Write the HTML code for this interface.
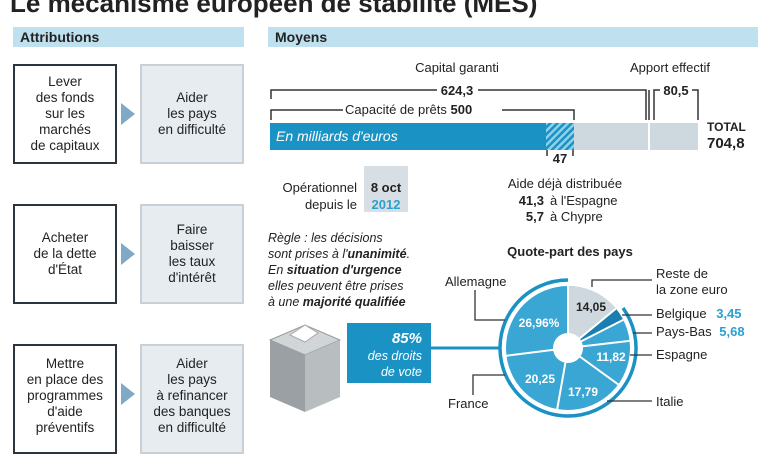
<!DOCTYPE html>
<html><head><meta charset="utf-8"><style>
body{margin:0;width:770px;height:432px;overflow:hidden;background:#fff;font-family:"Liberation Sans",sans-serif;position:relative;color:#222}
.a{position:absolute}
.hd{position:absolute;top:27px;height:20px;background:#bfe0ef;font-weight:bold;font-size:14px;line-height:20px;padding-left:7px;box-sizing:border-box}
.bx{position:absolute;width:104px;height:100px;box-sizing:border-box;display:flex;align-items:center;justify-content:center;text-align:center;font-size:13.5px;line-height:16px}
.l{border:2px solid #2a3540;background:#fff}
.r{border:2px solid #c8d0d6;background:#e6ecf0}
.ar{position:absolute;width:0;height:0;border-top:11px solid transparent;border-bottom:11px solid transparent;border-left:14px solid #7fa9c4}
</style></head><body>
<div class="a" style="left:10px;top:-12px;font-size:26px;font-weight:bold;white-space:nowrap">Le mécanisme européen de stabilité (MES)</div>
<div class="hd" style="left:13px;width:231px">Attributions</div>
<div class="hd" style="left:268px;width:490px">Moyens</div>

<div class="bx l" style="left:13px;top:64px">Lever<br>des fonds<br>sur les<br>marchés<br>de capitaux</div>
<div class="ar" style="left:121px;top:103px"></div>
<div class="bx r" style="left:140px;top:64px">Aider<br>les pays<br>en difficulté</div>
<div class="bx l" style="left:13px;top:204px">Acheter<br>de la dette<br>d'État</div>
<div class="ar" style="left:121px;top:243px"></div>
<div class="bx r" style="left:140px;top:204px">Faire<br>baisser<br>les taux<br>d'intérêt</div>
<div class="bx l" style="left:13px;top:344px;align-items:flex-start;padding-top:10px;height:110px">Mettre<br>en place des<br>programmes<br>d'aide<br>préventifs</div>
<div class="ar" style="left:121px;top:383px"></div>
<div class="bx r" style="left:140px;top:344px;align-items:flex-start;padding-top:10px;height:110px">Aider<br>les pays<br>à refinancer<br>des banques<br>en difficulté</div>

<svg class="a" style="left:0;top:0" width="770" height="432">
<defs><pattern id="h" width="5" height="5" patternUnits="userSpaceOnUse" patternTransform="rotate(45)"><rect width="5" height="5" fill="#8fd0ea"/><rect width="2.5" height="5" fill="#1a93c4"/></pattern></defs>
<g stroke="#333" stroke-width="1.5" fill="none">
<path d="M271,99 V90 H437 M478,90 H646 V120 M649,120 V90"/>
<path d="M271,120 V110 H343 M502,110 H574 V120"/>
<path d="M654,120 V90 H660 M692,90 H698 V120"/>
<path d="M547,150 V156 M573,150 V156"/>
</g>
<rect x="270" y="123" width="276" height="27" fill="#1a93c4"/>
<rect x="546" y="123" width="28" height="27" fill="url(#h)"/>
<rect x="574" y="123" width="124" height="27" fill="#cdd8df"/>
<rect x="648" y="123" width="2" height="27" fill="#fff"/>
<rect x="364" y="166" width="44" height="46" fill="#d7dfe4"/>
<polygon points="270,340 305,325 340,340 305,355" fill="#d0d5d8" stroke="#999"/>
<polygon points="270,340 305,355 305,412 270,397" fill="#9aa0a4"/>
<polygon points="305,355 340,340 340,397 305,412" fill="#b8bdc0"/>
<polygon points="290,335 305,325 318,333 305,342" fill="#fff" stroke="#aaa"/>
<rect x="347" y="323" width="84" height="60" fill="#1a93c4"/>
<line x1="431" y1="348" x2="500" y2="348" stroke="#1a93c4" stroke-width="3"/>
<path d="M623,308 A68,68 0 1 1 568,280" fill="none" stroke="#1a93c4" stroke-width="3.5"/>
<circle cx="568" cy="348" r="62" fill="#3aa6d4"/>
<path d="M568,348 L568,286 A62,62 0 0 1 615.9,308.6 Z" fill="#cfd8de"/>
<path d="M568,348 L615.9,308.6 A62,62 0 0 1 623.2,319.9 Z" fill="#1a7fb0"/>
<g stroke="#fff" stroke-width="2">
<line x1="568" y1="348" x2="568" y2="286"/><line x1="568" y1="348" x2="615.9" y2="308.6"/>
<line x1="568" y1="348" x2="623.2" y2="319.9"/><line x1="568" y1="348" x2="629.6" y2="340.9"/>
<line x1="568" y1="348" x2="618.2" y2="384.4"/><line x1="568" y1="348" x2="557.2" y2="409.1"/>
<line x1="568" y1="348" x2="506.5" y2="355.7"/></g>
<circle cx="568" cy="348" r="15" fill="#fff"/>
<g stroke="#333" stroke-width="1.3" fill="none">
<path d="M592,287 V280 H652"/><path d="M622,315 H652"/><path d="M633,333 H652"/>
<path d="M630,355 H652"/><path d="M607,401 H652"/><path d="M475,290 V320 H505"/><path d="M473,395 V375 H505"/>
</g>
<g font-family="Liberation Sans,sans-serif" font-size="13" fill="#222">
<text x="457" y="72" text-anchor="middle">Capital garanti</text>
<text x="457" y="95" text-anchor="middle" font-weight="bold">624,3</text>
<text x="345" y="114">Capacité de prêts <tspan font-weight="bold">500</tspan></text>
<text x="670" y="72" text-anchor="middle">Apport effectif</text>
<text x="676" y="95" text-anchor="middle" font-weight="bold">80,5</text>
<text x="276" y="141" fill="#fff" font-style="italic" font-size="14">En milliards d'euros</text>
<text x="707" y="131" font-weight="bold" font-size="12">TOTAL</text>
<text x="707" y="148" font-weight="bold" font-size="15">704,8</text>
<text x="560" y="163" text-anchor="middle" font-weight="bold">47</text>
<text x="565" y="188" text-anchor="middle">Aide déjà distribuée</text>
<text x="544" y="205" font-weight="bold" text-anchor="end">41,3</text><text x="550" y="205">à l'Espagne</text>
<text x="544" y="221" font-weight="bold" text-anchor="end">5,7</text><text x="550" y="221">à Chypre</text>
<text x="357" y="192" text-anchor="end">Opérationnel</text>
<text x="357" y="209" text-anchor="end">depuis le</text>
<text x="386" y="192" text-anchor="middle" font-weight="bold">8 oct</text>
<text x="386" y="209" text-anchor="middle" font-weight="bold" fill="#2aa0cf">2012</text>
<g font-style="italic" font-size="12.5"><text x="268" y="242">Règle : les décisions</text>
<text x="268" y="258">sont prises à l'<tspan font-weight="bold">unanimité</tspan>.</text>
<text x="268" y="274">En <tspan font-weight="bold">situation d'urgence</tspan></text>
<text x="268" y="290">elles peuvent être prises</text>
<text x="268" y="306">à une <tspan font-weight="bold">majorité qualifiée</tspan></text>
<text x="422" y="343" text-anchor="end" fill="#fff" font-weight="bold" font-size="15">85%</text>
<text x="422" y="360" text-anchor="end" fill="#fff">des droits</text>
<text x="422" y="376" text-anchor="end" fill="#fff">de vote</text></g>
<text x="570" y="256" text-anchor="middle" font-weight="bold">Quote-part des pays</text>
<text x="445" y="286">Allemagne</text>
<text x="656" y="278">Reste de</text><text x="656" y="294">la zone euro</text>
<text x="656" y="318">Belgique <tspan font-weight="bold" fill="#2aa0cf" dx="6">3,45</tspan></text>
<text x="656" y="336">Pays-Bas <tspan font-weight="bold" fill="#2aa0cf" dx="4">5,68</tspan></text>
<text x="656" y="359">Espagne</text>
<text x="656" y="406">Italie</text>
<text x="448" y="408">France</text>
<g font-weight="bold" font-size="12"><text x="591" y="311" text-anchor="middle" fill="#222">14,05</text>
<g fill="#fff"><text x="539" y="327" text-anchor="middle">26,96%</text>
<text x="611" y="361" text-anchor="middle">11,82</text>
<text x="540" y="383" text-anchor="middle">20,25</text>
<text x="583" y="396" text-anchor="middle">17,79</text></g></g>
</g>
</svg>
</body></html>
